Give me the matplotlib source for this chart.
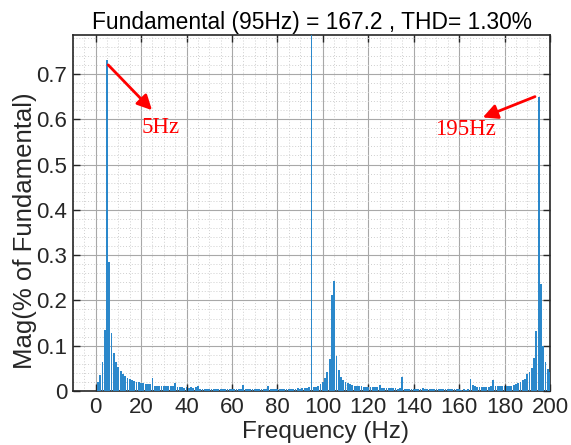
import numpy as np
import matplotlib
matplotlib.use('Agg')
import matplotlib.pyplot as plt
from matplotlib.ticker import MultipleLocator

# FFT of the signal, 1 Hz bins from 0 to 200 Hz, % of fundamental
freqs = list(range(0, 201))
mag = [
    0.000, 0.019, 0.036, 0.063, 0.134, 0.730, 0.284, 0.127, 0.084, 0.064,   # 0-9
    0.053, 0.044, 0.038, 0.033, 0.029, 0.026, 0.024, 0.022, 0.020, 0.019,   # 10-19
    0.017, 0.017, 0.016, 0.016, 0.015, 0.028, 0.012, 0.011, 0.011, 0.011,   # 20-29
    0.011, 0.010, 0.011, 0.010, 0.010, 0.018, 0.008, 0.008, 0.008, 0.007,   # 30-39
    0.008, 0.007, 0.008, 0.007, 0.008, 0.011, 0.005, 0.004, 0.005, 0.004,   # 40-49
    0.005, 0.004, 0.004, 0.005, 0.004, 0.004, 0.005, 0.004, 0.004, 0.005,   # 50-59
    0.004, 0.004, 0.005, 0.004, 0.004, 0.013, 0.005, 0.005, 0.004, 0.005,   # 60-69
    0.005, 0.004, 0.005, 0.005, 0.004, 0.005, 0.012, 0.004, 0.004, 0.004,   # 70-79
    0.004, 0.004, 0.005, 0.004, 0.004, 0.005, 0.005, 0.005, 0.005, 0.006,   # 80-89
    0.005, 0.006, 0.007, 0.007, 0.008, 100.0, 0.009, 0.009, 0.011, 0.015,   # 90-99
    0.020, 0.028, 0.041, 0.070, 0.212, 0.243, 0.078, 0.046, 0.032, 0.025,   # 100-109
    0.020, 0.018, 0.016, 0.014, 0.012, 0.011, 0.010, 0.010, 0.009, 0.009,   # 110-119
    0.008, 0.009, 0.008, 0.008, 0.009, 0.013, 0.007, 0.007, 0.006, 0.007,   # 120-129
    0.006, 0.006, 0.006, 0.005, 0.006, 0.030, 0.004, 0.005, 0.004, 0.004,   # 130-139
    0.005, 0.004, 0.004, 0.005, 0.006, 0.004, 0.004, 0.005, 0.004, 0.004,   # 140-149
    0.005, 0.004, 0.004, 0.004, 0.005, 0.004, 0.004, 0.005, 0.004, 0.004,   # 150-159
    0.004, 0.003, 0.004, 0.003, 0.004, 0.026, 0.013, 0.010, 0.009, 0.009,   # 160-169
    0.009, 0.009, 0.009, 0.009, 0.010, 0.024, 0.010, 0.010, 0.010, 0.010,   # 170-179
    0.011, 0.011, 0.012, 0.012, 0.014, 0.015, 0.018, 0.020, 0.024, 0.027,   # 180-189
    0.038, 0.041, 0.050, 0.074, 0.133, 0.650, 0.236, 0.100, 0.065, 0.048,   # 190-199
    0.043,                                                                   # 200
]

title_txt = 'Fundamental (95Hz) = 167.2 , THD= 1.30%'
notes = ['5Hz', '195Hz']
note_xy = [(20, 0.57), (149.4, 0.565)]
arrow_tail = [(5.5, 0.72), (193.4, 0.650)]
arrow_head = [(24.8, 0.62), (170.4, 0.604)]

plt.rcParams['font.family'] = ['Liberation Sans', 'DejaVu Sans']
dark = '#262626'

fig = plt.figure(figsize=(5.71, 4.45), dpi=100)
ax = fig.add_axes([0.1278, 0.1213, 0.9632 - 0.1278, 0.9213 - 0.1213])

ax.bar(freqs, mag, width=0.8, color='#2b88cb', linewidth=0, zorder=3)

ax.set_xlim(-10, 200)
ax.set_ylim(0, 0.786)
ax.xaxis.set_major_locator(MultipleLocator(20))
ax.xaxis.set_minor_locator(MultipleLocator(5))
ax.yaxis.set_major_locator(MultipleLocator(0.1))
ax.yaxis.set_minor_locator(MultipleLocator(0.02))
ax.set_yticks(np.arange(0, 0.71, 0.1))
ax.set_yticklabels(['0', '0.1', '0.2', '0.3', '0.4', '0.5', '0.6', '0.7'])

ax.grid(which='major', color='#a8a8a8', lw=0.8, ls='-', zorder=0)
ax.grid(which='minor', color='#cfcfcf', lw=0.7, ls=(0, (1, 2)), zorder=0)
ax.set_axisbelow(True)

ax.tick_params(which='major', direction='in', length=5, width=1, top=True, right=True,
               labelsize=16, colors=dark, pad=4)
ax.tick_params(which='minor', length=0, top=True, right=True)
for s in ax.spines.values():
    s.set_color(dark)
    s.set_linewidth(1.2)

ax.set_xlabel('Frequency (Hz)', fontsize=17.5, color=dark)
ax.xaxis.set_label_coords(0.53, -0.085)
ax.set_ylabel('Mag(% of Fundamental)', fontsize=18.5, color=dark)
ax.yaxis.set_label_coords(-0.075, 0.45)
ax.set_title(title_txt, fontsize=16.4, color='black', pad=4)

for txt, pos, t, h in zip(notes, note_xy, arrow_tail, arrow_head):
    ax.annotate('', xy=h, xytext=t,
                arrowprops=dict(arrowstyle='-|>', color='red', lw=2,
                                mutation_scale=22, shrinkA=0, shrinkB=0), zorder=5)
    ax.text(pos[0], pos[1], txt, color='red', fontsize=16.5, family='Liberation Serif',
            ha='left', va='baseline', zorder=5)

plt.savefig('out.png', dpi=100)
plt.close()
